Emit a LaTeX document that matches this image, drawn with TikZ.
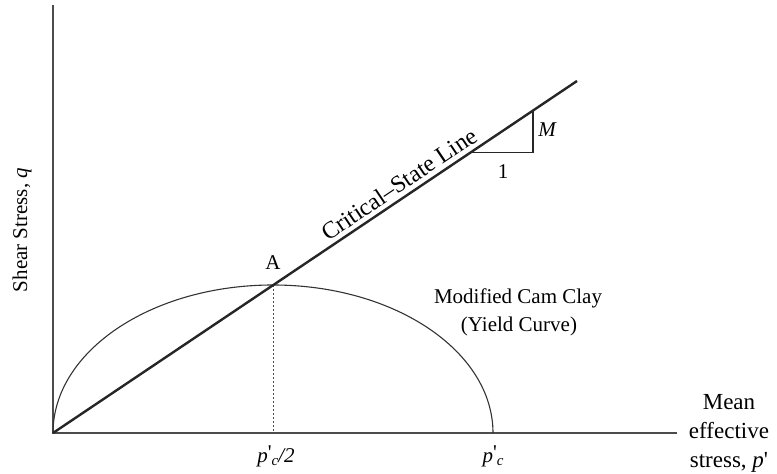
\documentclass[tikz,border=0pt]{standalone}
\usepackage{fontspec}
\setmainfont{Liberation Serif}
\begin{document}
\begin{tikzpicture}[x=1pt,y=1pt,
  lbl/.style={inner sep=0pt,font=\fontsize{21}{25}\selectfont},
  axisline/.style={draw=black!70,line width=2pt},
  csl/.style={draw=black!85,line width=2.4pt},
  yc/.style={draw=black!80,line width=1.1pt}]
\useasboundingbox (0,0) rectangle (777,474);
\coordinate (O) at (53,41);
\coordinate (Ytop) at (53,469);
\coordinate (Xend) at (677,41);
\coordinate (Cend) at (577,393);
\coordinate (A) at (273,189);
\coordinate (Abase) at (273,41);
\coordinate (Pc) at (493,41);
\coordinate (T1) at (470,321.6);
\coordinate (T2) at (533,321.6);
\coordinate (T3) at (533,364);
% axes
\draw[axisline] (Ytop) -- (O) -- (Xend);
% yield curve
\draw[yc] (O) arc[start angle=180,end angle=0,x radius=220,y radius=148];
% dashed vertical
\draw[black!70,line width=1pt,dash pattern=on 2pt off 2pt] (A) -- (Abase);
% critical state line
\draw[csl] (O) -- (Cend) node[pos=0.675,sloped,above=4pt,inner sep=0pt,font=\fontsize{24}{28}\selectfont] (cslt) {Critical--State Line};
% slope triangle
\draw[black!85,line width=1.3pt] (T1) -- (T2) -- (T3);
\node[lbl] (m) at (547,344) {\itshape M};
\node[lbl] (one) at (503,302) {1};
\node[lbl] (a) at (273,211) {A};
\node[lbl] (mcc) at (518,176) {Modified Cam Clay};
\node[lbl] (ycv) at (519,148) {(Yield Curve)};
\node[lbl] (pc2) at (276,18) {\itshape p\raisebox{0.3ex}{\upshape\textquotesingle}\raisebox{-0.35ex}{\fontsize{15}{15}\selectfont c}/2};
\node[lbl] (pc) at (493,18) {\itshape p\raisebox{0.3ex}{\upshape\textquotesingle}\raisebox{-0.35ex}{\fontsize{15}{15}\selectfont c}};
\node[lbl,align=center,font=\fontsize{23}{29}\selectfont] (mean) at (729,41) {Mean\\effective\\stress, \textit{p}\textquotesingle};
\node[lbl,rotate=90] (shear) at (22,244) {Shear Stress, \textit{q}};
\end{tikzpicture}
\end{document}
